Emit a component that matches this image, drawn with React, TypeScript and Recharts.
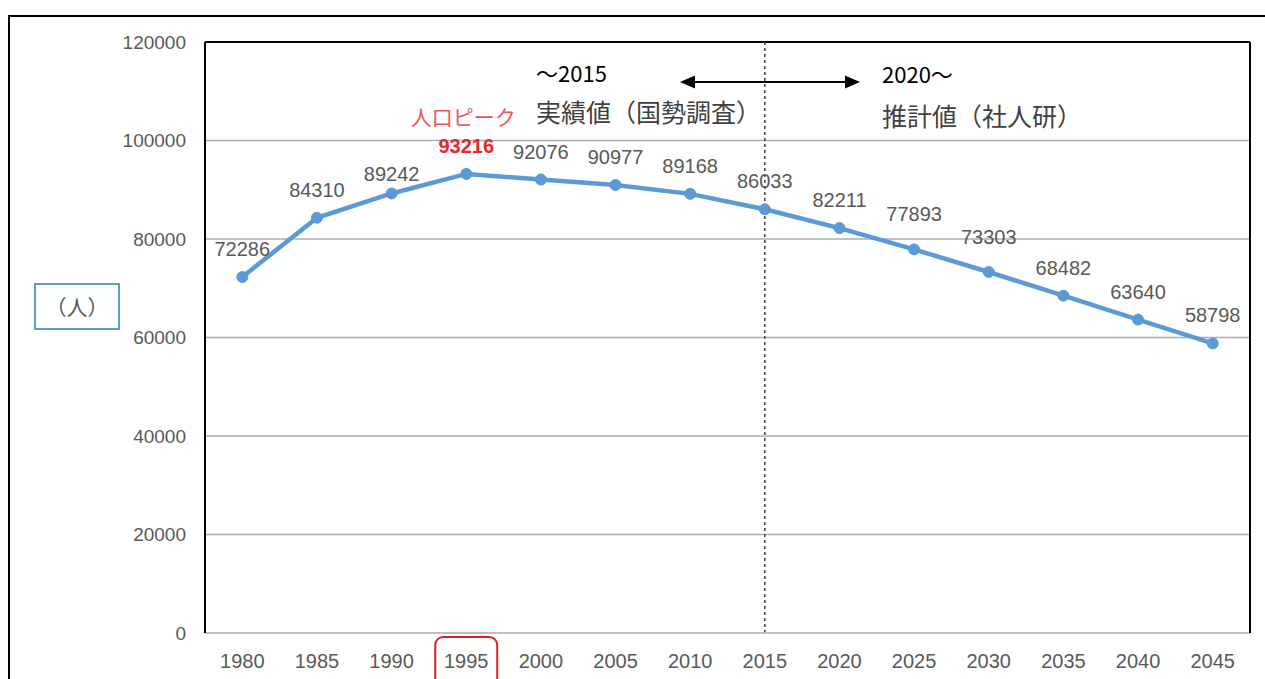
import React from 'react';
import { LineChart, Line, XAxis, YAxis, CartesianGrid, ReferenceLine, LabelList } from 'recharts';

const years = ['1980', '1985', '1990', '1995', '2000', '2005', '2010', '2015', '2020', '2025', '2030', '2035', '2040', '2045'];
const population = [72286, 84310, 89242, 93216, 92076, 90977, 89168, 86033, 82211, 77893, 73303, 68482, 63640, 58798];
const yTicks = [0, 20000, 40000, 60000, 80000, 100000, 120000];
const peakYear = '1995';
const boundaryYear = '2015';
const unitLabel = '（人）';
const peakLabel = '人口ピーク';
const leftTitle1 = '～2015';
const leftTitle2 = '実績値（国勢調査）';
const rightTitle1 = '2020～';
const rightTitle2 = '推計値（社人研）';

const data = years.map((y, i) => ({ year: y, pop: population[i] }));

const NUM_FONT = '"Liberation Sans", "Noto Sans", sans-serif';
const JP_FONT = '"Noto Sans CJK JP", "Noto Sans", sans-serif';
const GRAY = '#595959';
const BLUE = '#5B9BD5';
const RED = '#E8262B';

// label lift (px above point, text center)
const labelLift: Record<string, number> = { '1990': 19, '2025': 35, '2030': 35 };

const renderLabel = (props: any) => {
  const { x, y, value, index } = props;
  const yr = years[index];
  const lift = labelLift[yr] ?? 28;
  const isPeak = yr === peakYear;
  return (
    <g>
      {isPeak && (
        <text x={x - 3} y={y - 58} textAnchor="middle" dominantBaseline="central" fill="#F0555A" fontSize={21} fontFamily={JP_FONT}>
          {peakLabel}
        </text>
      )}
      <text
        x={x}
        y={y - lift}
        textAnchor="middle"
        dominantBaseline="central"
        fill={isPeak ? RED : GRAY}
        fontWeight={isPeak ? 700 : 400}
        fontSize={20}
        fontFamily={NUM_FONT}
      >
        {value}
      </text>
    </g>
  );
};

const XTick = (props: any) => {
  const { x, y, payload } = props;
  const v = payload.value;
  return (
    <g>
      {v === peakYear && (
        <rect x={x - 31} y={y + 4} width={62} height={52} rx={8} ry={8} fill="none" stroke="#E02020" strokeWidth={2} />
      )}
      <text x={x} y={y + 28} textAnchor="middle" dominantBaseline="central" fill={GRAY} fontSize={20} fontFamily={NUM_FONT}>
        {v}
      </text>
    </g>
  );
};

const YTick = (props: any) => {
  const { x, y, payload } = props;
  return (
    <text x={x} y={y} textAnchor="end" dominantBaseline="central" fill={GRAY} fontSize={19} fontFamily={NUM_FONT}>
      {payload.value}
    </text>
  );
};

export default function App() {
  return (
    <div style={{ position: 'absolute', left: 0, top: 0, width: 1265, height: 679, background: '#fff', overflow: 'hidden' }}>
      <LineChart width={1265} height={679} data={data} margin={{ top: 42, right: 14, bottom: 0, left: 100 }}>
        <CartesianGrid vertical={false} stroke="#ADADAD" strokeWidth={1.5} />
        <XAxis
          dataKey="year"
          padding={{ left: 37.3, right: 37.3 }}
          height={46}
          tickSize={0}
          tickMargin={0}
          tickLine={false}
          axisLine={{ stroke: '#BFBFBF', strokeWidth: 1.5 }}
          tick={<XTick />}
          interval={0}
        />
        <YAxis
          domain={[0, 120000]}
          ticks={yTicks}
          width={105}
          tickSize={0}
          tickMargin={19}
          tickLine={false}
          axisLine={{ stroke: '#000', strokeWidth: 2 }}
          tick={<YTick />}
          interval={0}
        />
        <YAxis
          yAxisId="r"
          orientation="right"
          domain={[0, 120000]}
          width={1}
          tick={false}
          tickLine={false}
          axisLine={{ stroke: '#000', strokeWidth: 2 }}
        />
        <ReferenceLine y={120000} stroke="#000" strokeWidth={2} />
        <ReferenceLine x={boundaryYear} stroke="#404040" strokeWidth={1.5} strokeDasharray="3 3" />
        <Line
          type="linear"
          dataKey="pop"
          stroke={BLUE}
          strokeWidth={4.5}
          dot={{ r: 5.5, fill: BLUE, stroke: BLUE, strokeWidth: 1 }}
          activeDot={false}
          isAnimationActive={false}
        >
          <LabelList dataKey="pop" content={renderLabel} />
        </Line>
      </LineChart>
      <svg width={1265} height={679} style={{ position: 'absolute', left: 0, top: 0, pointerEvents: 'none' }}>
        <rect x={9} y={16} width={1280} height={700} fill="none" stroke="#000" strokeWidth={2} />
        <rect x={35} y={284} width={84} height={45} fill="#fff" stroke={BLUE} strokeWidth={2} />
        <text x={77} y={306} textAnchor="middle" dominantBaseline="central" fill={GRAY} fontSize={21} fontFamily={JP_FONT}>
          {unitLabel}
        </text>
        <text x={536} y={72} dominantBaseline="central" fill="#000" fontSize={22} fontFamily={JP_FONT}>
          {leftTitle1}
        </text>
        <text x={536} y={111} dominantBaseline="central" fill="#404040" fontSize={25} fontFamily={JP_FONT}>
          {leftTitle2}
        </text>
        <text x={882} y={73} dominantBaseline="central" fill="#000" fontSize={22} fontFamily={JP_FONT}>
          {rightTitle1}
        </text>
        <text x={882} y={115} dominantBaseline="central" fill="#404040" fontSize={25} fontFamily={JP_FONT}>
          {rightTitle2}
        </text>
        <line x1={692} y1={82} x2={848} y2={82} stroke="#000" strokeWidth={2} />
        <polygon points="680,82 695,75.5 695,88.5" fill="#000" />
        <polygon points="860,82 845,75.5 845,88.5" fill="#000" />
      </svg>
    </div>
  );
}
